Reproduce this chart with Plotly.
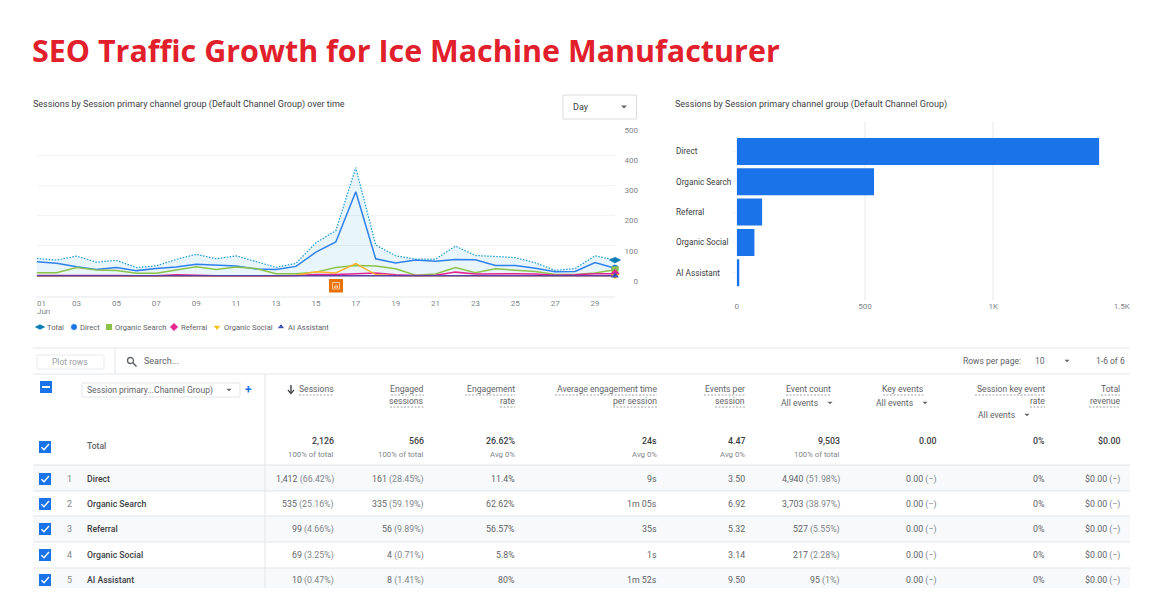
import plotly.graph_objects as go

# the page keeps its default 8px body margin, so the figure sits inside it
PAGE_W, PAGE_H = 1154, 585
OFFSET = 8


# Data

days = list(range(1, 31))
day_ticks = list(range(1, 30, 2))
day_labels = [''] + ['%02d' % d for d in day_ticks[1:]]
first_day = ['01', 'Jun']

total = [58, 53, 66, 46, 52, 28, 34, 55, 72, 57, 67, 49, 29, 42, 110,
         150, 359, 103, 67, 56, 56, 99, 68, 65, 61, 44, 19, 25, 67, 53]
direct = [47, 42, 31, 22, 28, 18, 25, 30, 39, 35, 33, 23, 22, 32, 79,
          113, 279, 57, 43, 53, 49, 55, 54, 35, 35, 26, 14, 15, 45, 26]
organic_search = [11, 11, 28, 20, 18, 9, 9, 20, 31, 22, 30, 25, 8, 8, 13,
                  28, 35, 33, 24, 3, 7, 28, 11, 24, 19, 15, 5, 5, 10, 21]
referral = [2, 2, 4, 2, 2, 1, 1, 4, 2, 1, 1, 1, 1, 2, 5,
            5, 8, 10, 4, 2, 3, 13, 7, 8, 8, 7, 3, 4, 8, 8]
organic_social = [0, 0, 0, 0, 0, 0, 0, 0, 0, 0, 0, 0, 0, 3, 14,
                  10, 41, 5, 1, 1, 1, 1, 1, 1, 1, 1, 1, 1, 2, 1]
ai_assistant = [1, 1, 1, 1, 1, 1, 1, 1, 1, 1, 2, 1, 1, 1, 1,
                1, 2, 1, 1, 1, 1, 2, 1, 1, 1, 1, 1, 1, 1, 1]

bar_channels = ['Direct', 'Organic Search', 'Referral', 'Organic Social', 'AI Assistant']
bar_sessions = [1412, 535, 99, 69, 10]
bar_ticks = [0, 500, 1000, 1500]
bar_tick_labels = ['0', '500', '1K', '1.5K']

legend_names = ['Total', 'Direct', 'Organic Search', 'Referral', 'Organic Social', 'AI Assistant']

total_row = ['2,126', '566', '26.62%', '24s', '4.47', '9,503', '0.00', '0%', '$0.00']
total_sub = ['100% of total', '100% of total', 'Avg 0%', 'Avg 0%', 'Avg 0%', '100% of total']

sessions_col = [('1,412', '66.42%'), ('535', '25.16%'), ('99', '4.66%'), ('69', '3.25%'), ('10', '0.47%')]
engaged_col = [('161', '28.45%'), ('335', '59.19%'), ('56', '9.89%'), ('4', '0.71%'), ('8', '1.41%')]
rate_col = ['11.4%', '62.62%', '56.57%', '5.8%', '80%']
time_col = ['9s', '1m 05s', '35s', '1s', '1m 52s']
per_session_col = ['3.50', '6.92', '5.32', '3.14', '9.50']
events_col = [('4,940', '51.98%'), ('3,703', '38.97%'), ('527', '5.55%'), ('217', '2.28%'), ('95', '1%')]
key_events_col = ['0.00'] * 5
key_rate_col = ['0%'] * 5
revenue_col = ['$0.00'] * 5


# Styles and page layout, all in screen pixels

FONT = 'Roboto'
TEXT = '#3c4043'
GREY = '#80868b'
RULE = '#e3e5e8'
GRID = '#f1f3f4'
BLUE = '#1a73e8'
LINE_COLOURS = ['#1a9bd7', '#2f80ed', '#8bc34a', '#e52592', '#fbb32c', '#5c3fa8']
MARK_COLOURS = ['#0b7fb5', '#1a73e8', '#8bc34a', '#e52592', '#fbbc04', '#3f51b5']
MARK_SYMBOLS = ['diamond-wide', 'circle', 'square', 'diamond', 'triangle-down', 'triangle-up']
MARK_SIZES = [9, 7, 7, 7, 7, 7]

col_right = [334, 424, 515, 657, 745, 840, 936, 1045, 1120]
row_y = [479, 504, 529, 555, 580]
row_rules = [465, 491, 516, 542, 568]


def xp(x):
    return (x - OFFSET) / PAGE_W


def yp(y):
    return 1 - (y - OFFSET) / PAGE_H


shapes = []
notes = []


def text(x, y, s, size=9, color=TEXT, anchor='left', weight=400):
    notes.append(dict(x=xp(x), y=yp(y), xref='paper', yref='paper', text=s, showarrow=False,
                      xanchor=anchor, yanchor='middle', borderpad=0, borderwidth=0,
                      font=dict(family=FONT, size=size, color=color, weight=weight)))


def rect(x0, y0, x1, y1, fill, line=None, width=1):
    shapes.append(dict(type='rect', xref='paper', yref='paper', x0=xp(x0), x1=xp(x1), y0=yp(y0), y1=yp(y1),
                       fillcolor=fill, line=dict(color=line or fill, width=width if line else 0), layer='below'))


def hline(x0, x1, y, color=RULE, width=1, dash='solid'):
    shapes.append(dict(type='line', xref='paper', yref='paper', x0=xp(x0), x1=xp(x1), y0=yp(y), y1=yp(y),
                       line=dict(color=color, width=width, dash=dash), layer='below'))


def vline(x, y0, y1, color=RULE, width=1):
    shapes.append(dict(type='line', xref='paper', yref='paper', x0=xp(x), x1=xp(x), y0=yp(y0), y1=yp(y1),
                       line=dict(color=color, width=width), layer='below'))


def poly(points, fill=None, line=None, width=1.2, close=False, layer='above'):
    path = 'M ' + ' L '.join('%.4f %.4f' % (xp(a), yp(b)) for a, b in points)
    if close:
        path += ' Z'
    shapes.append(dict(type='path', xref='paper', yref='paper', path=path, fillcolor=fill,
                       line=dict(color=line or 'rgba(0,0,0,0)', width=width), layer=layer))


def checkbox(cx, cy, minus=False):
    rect(cx - 6, cy - 6, cx + 6, cy + 6, BLUE)
    if minus:
        poly([(cx - 4, cy), (cx + 4, cy)], line='white', width=2)
    else:
        poly([(cx - 3.5, cy + 0.2), (cx - 1, cy + 2.8), (cx + 4, cy - 3)], line='white', width=1.4)


def caret(cx, cy, size=3, color='#5f6368'):
    poly([(cx - size, cy - size / 2), (cx + size, cy - size / 2), (cx, cy + size / 2)], fill=color, close=True)


def dashes(x0, x1, y):
    hline(x0, x1, y, color='#a0a4a8', width=1, dash='2px,1.5px')


# Page title

notes.append(dict(x=xp(30), y=yp(50), xref='paper', yref='paper', text='<b>SEO Traffic Growth for Ice Machine Manufacturer</b>',
                  showarrow=False, xanchor='left', yanchor='middle',
                  font=dict(family='Open Sans', size=30.45, color='#e2202c')))


# Chart headings

text(33, 105, 'Sessions by Session primary channel group (Default Channel Group) over time', size=9)
text(675, 105, 'Sessions by Session primary channel group (Default Channel Group)', size=9)
rect(563, 95, 636.5, 119, 'white', line='#dadce0')
text(573, 107, 'Day', size=9)
caret(624, 107)

text(37, 303.5, first_day[0], size=8, color=GREY)
text(37, 311, first_day[1], size=8, color=GREY)


# Line chart legend

legend_x = [40, 74, 109, 174, 217, 281]
legend_text_x = [47, 80, 115, 181, 224, 288]
for name, tx in zip(legend_names, legend_text_x):
    text(tx, 327.5, name, size=7.6, color='#5f6368')

# Orange annotation icon

rect(330, 280, 342, 291.5, '#e8710a', line='#e8710a', width=2)
rect(332.5, 282.5, 339.5, 289, '#e8710a', line='#ffd9b8', width=0.8)
poly([(334.5, 288), (334.5, 286)], line='#ffd9b8', width=1)
poly([(336, 288), (336, 284.5)], line='#ffd9b8', width=1)
poly([(337.5, 288), (337.5, 285.5)], line='#ffd9b8', width=1)


# Table frame

hline(33, 1130, 348)
hline(33, 1130, 374)
rect(33, 465, 1130, 491, '#f8f9fa')
rect(33, 516, 1130, 542, '#f8f9fa')
rect(33, 568, 1130, 588, '#f8f9fa')
for y in row_rules:
    hline(33, 1130, y, width=1.2)
vline(115, 348, 374)
vline(265, 374, 588)


# Table toolbar

rect(37, 355, 104, 369, 'white', line='#e8eaed')
text(52, 361.5, 'Plot rows', size=8.5, color='#9aa0a6')
shapes.append(dict(type='circle', xref='paper', yref='paper', x0=xp(127.5), x1=xp(133.5), y0=yp(357.5), y1=yp(363.5),
                   line=dict(color='#5f6368', width=1.3)))
poly([(132.5, 362.5), (136.5, 366.5)], line='#5f6368', width=1.5)
text(144, 361, 'Search...', size=9, color='#5f6368')
text(963, 361, 'Rows per page:', size=8.5, color='#5f6368')
text(1035, 361, '10', size=8.5, color='#5f6368')
caret(1067, 361, size=2.5)
text(1125, 361, '1-6 of 6', size=8.5, color='#5f6368', anchor='right')


# Table header

checkbox(46, 387, minus=True)
rect(82, 383, 240, 397, 'white', line='#e3e5e8')
text(87, 390, 'Session primary...Channel Group)', size=8.5, color='#5f6368')
caret(229, 390, size=2.5)
text(248.5, 389.5, '<b>+</b>', size=12, color=BLUE, anchor='center')
poly([(291, 385), (291, 393)], line='#3c4043', width=1.4)
poly([(288, 390), (291, 393.5), (294, 390)], line='#3c4043', width=1.2)

head_lines = [
    (334, 389, 'Sessions', 299),
    (424, 389, 'Engaged', 391),
    (424, 401, 'sessions', 390),
    (515, 389, 'Engagement', 465),
    (515, 401, 'rate', 500),
    (657, 389, 'Average engagement time', 555),
    (657, 401, 'per session', 613),
    (745, 389, 'Events per', 704),
    (745, 401, 'session', 715),
    (831, 389, 'Event count', 786),
    (924, 389, 'Key events', 883),
    (1045, 389, 'Session key event', 975),
    (1045, 401, 'rate', 1030),
    (1120, 389, 'Total', 1101),
    (1120, 401, 'revenue', 1089),
]
for right, y, label, left in head_lines:
    text(right, y, label, size=8.6, color='#5f6368', anchor='right')
    dashes(left, right, y + 6)

for x, y in [(781, 403), (876, 403), (978, 415)]:
    text(x, y, 'All events', size=8.6, color='#5f6368')
    caret(x + 49, y, size=2.5)


# Totals row

checkbox(45, 447)
text(87, 446, 'Total', size=8.6, color='#5f6368', weight=500)
for right, value in zip(col_right, total_row):
    text(right, 441, value, size=8.8, color=TEXT, anchor='right', weight=500)
for right, value in zip(col_right, total_sub):
    text(right, 455, value, size=7.8, color=GREY, anchor='right')


# Table rows


def with_share(pair):
    return '%s <span style="color:%s">(%s)</span>' % (pair[0], GREY, pair[1])


def with_dash(value):
    return '%s <span style="color:%s">(\u2212)</span>' % (value, GREY)


for i, y in enumerate(row_y):
    checkbox(45, y)
    text(69, y, str(i + 1), size=9, color=GREY, anchor='center')
    text(87, y, bar_channels[i], size=8.7, color=TEXT, weight=500)
    cells = [with_share(sessions_col[i]), with_share(engaged_col[i]), rate_col[i], time_col[i], per_session_col[i],
             with_share(events_col[i]), with_dash(key_events_col[i]), key_rate_col[i], with_dash(revenue_col[i])]
    for right, cell in zip(col_right, cells):
        text(right, y, cell, size=8.8, color='#5f6368', anchor='right')


# Graph 1

fig = go.Figure()

series = [total, direct, organic_search, referral, organic_social, ai_assistant]
for name, values, colour in zip(legend_names, series, LINE_COLOURS):
    is_total = name == 'Total'
    fig.add_trace(go.Scatter(x=days, y=values, name=name, mode='lines', xaxis='x', yaxis='y',
                             fill='tozeroy' if is_total else None,
                             fillcolor='rgba(26,155,215,0.10)' if is_total else None,
                             line=dict(color=colour, width=1.2 if is_total else 1.5,
                                       dash='1.5px,1.5px' if is_total else 'solid')))

for values, colour, symbol, size in zip(series, MARK_COLOURS, MARK_SYMBOLS, MARK_SIZES):
    fig.add_trace(go.Scatter(x=[days[-1]], y=[values[-1]], mode='markers', xaxis='x', yaxis='y',
                             marker=dict(color=colour, symbol=symbol, size=size), cliponaxis=False))


# Graph 2

fig.add_trace(go.Bar(x=bar_sessions, y=bar_channels, orientation='h', xaxis='x2', yaxis='y2',
                     marker=dict(color=BLUE, line=dict(width=0)), width=0.89))

for name in bar_channels:
    notes.append(dict(x=xp(675), y=name, xref='paper', yref='y2', text=name, showarrow=False, xanchor='left',
                      yanchor='middle', borderpad=0, font=dict(family=FONT, size=8.2, color=TEXT)))


# Legend symbols on a full page overlay axis

fig.add_trace(go.Scatter(x=legend_x, y=[327] * 6, mode='markers', xaxis='x3', yaxis='y3',
                         marker=dict(color=MARK_COLOURS, symbol=MARK_SYMBOLS, size=MARK_SIZES, opacity=1),
                         cliponaxis=False))


fig.update_layout(
    width=PAGE_W, height=PAGE_H, autosize=False, showlegend=False, hovermode=False,
    margin=dict(l=0, r=0, t=0, b=0, autoexpand=False), paper_bgcolor='white', plot_bgcolor='rgba(0,0,0,0)',
    font=dict(family=FONT, size=9, color=GREY),
    shapes=shapes, annotations=notes,
    xaxis=dict(domain=[xp(36.7), xp(615)], range=[1, 30], tickmode='array', tickvals=day_ticks, ticktext=day_labels,
               showgrid=False, zeroline=False, showline=True, linecolor=GRID, linewidth=1.5, ticks='', ticklabelstandoff=-1,
               tickfont=dict(size=8, color=GREY), anchor='y', automargin=False),
    yaxis=dict(domain=[yp(296), yp(125)], range=[-66, 500], tickmode='array', tickvals=[0, 100, 200, 300, 400, 500],
               showgrid=True, gridcolor=GRID, gridwidth=1.2, zeroline=False, showline=False, anchor='free',
               position=xp(638), side='left', ticks='', tickfont=dict(size=8, color=GREY), ticklabelshift=5,
               automargin=False),
    xaxis2=dict(domain=[xp(736.7), xp(1121.7)], range=[0, 1500], tickmode='array', tickvals=bar_ticks,
                ticktext=bar_tick_labels, showgrid=True, gridcolor=GRID, gridwidth=1.5, zeroline=False, showline=False,
                ticks='', tickfont=dict(size=8, color=GREY), anchor='y2', automargin=False),
    yaxis2=dict(domain=[yp(300), yp(122)], range=[4.9, -0.97], type='category', categoryorder='array',
                categoryarray=bar_channels, showticklabels=False, showgrid=False, zeroline=False, showline=False,
                ticks='outside', ticklen=4, tickcolor=GRID, anchor='x2', automargin=False),
    xaxis3=dict(domain=[0, 1], range=[OFFSET, OFFSET + PAGE_W], visible=False, anchor='y3'),
    yaxis3=dict(domain=[0, 1], range=[OFFSET + PAGE_H, OFFSET], visible=False, anchor='x3'),
)

fig.write_html("out.html", config=dict(displayModeBar=False))
